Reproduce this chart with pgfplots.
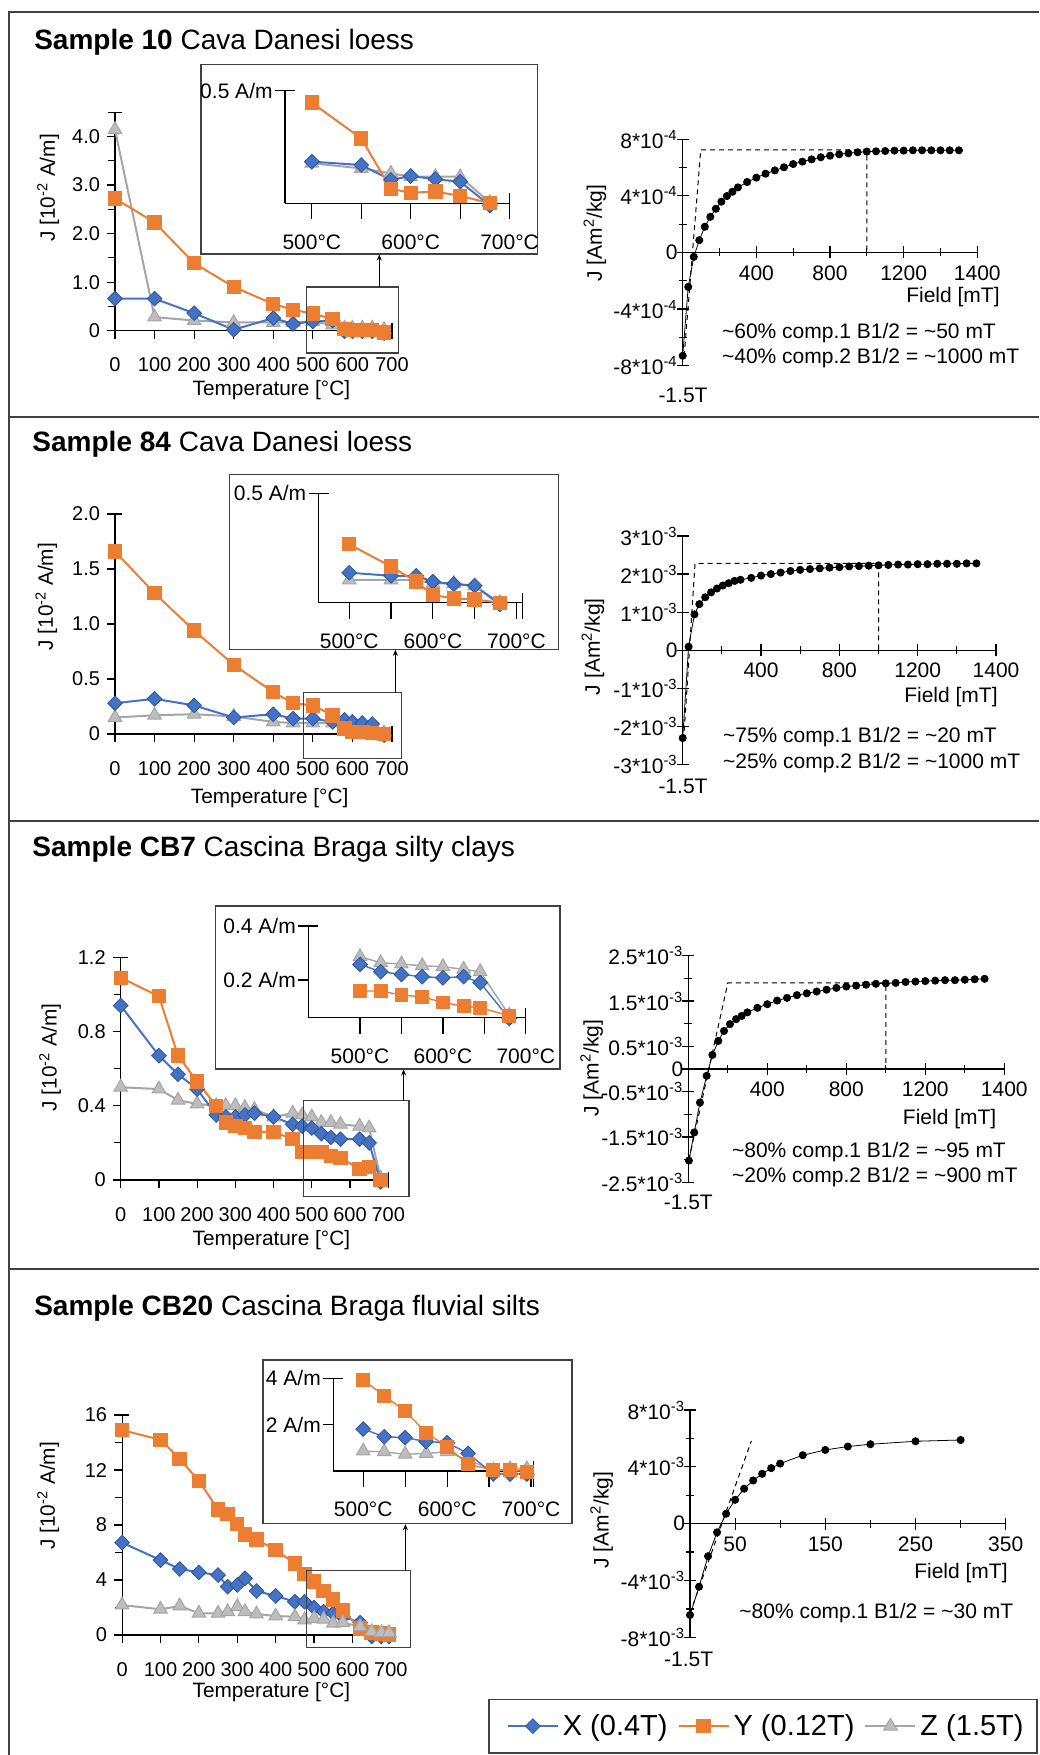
\documentclass[border=0pt]{standalone}
\usepackage{fontspec}
\setmainfont{Liberation Sans}
\usepackage{pgfplots}
\usepackage{pgfplotstable}
\pgfplotsset{compat=1.18}
\usetikzlibrary{arrows.meta}

\definecolor{cX}{HTML}{4472C4}
\definecolor{cXd}{HTML}{2F5597}
\definecolor{cY}{HTML}{ED7D31}
\definecolor{cZ}{HTML}{A5A5A5}
\definecolor{cZf}{HTML}{BDBDBD}
\definecolor{frm}{HTML}{404040}

\tikzset{ilab/.style={anchor=east, inner sep=0pt, font=\fontsize{10.5}{12}\selectfont}}
\pgfplotsset{
  noarrows/.style={every outer x axis line/.append style={-}, every outer y axis line/.append style={-},
    every inner x axis line/.append style={-}, every inner y axis line/.append style={-}},
  base/.style={anchor=south west, scale only axis, clip=false,
    axis line style={black, line width=0.6pt}, tick style={black, line width=0.6pt}},
  therm/.style={base, axis x line*=bottom, axis y line*=left, tick align=outside,
    major tick length=4pt, minor tick length=3.5pt,
    xmin=0, xmax=700, ymin=0,
    xtick={0,100,...,700}, xticklabels={0,100,200,300,400,500,600,700},
    tick label style={font=\fontsize{10}{12}\selectfont},
    xticklabel style={yshift=-6pt}, noarrows},
  inset/.style={base, axis x line*=bottom, axis y line*=left, tick align=outside,
    major tick length=8pt, ymin=0, ytick=\empty,
    xtick={500,550,600,650,700}, xticklabels={500°C,,600°C,,700°C},
    tick label style={font=\fontsize{10.5}{12}\selectfont},
    xticklabel style={yshift=-4pt}, noarrows},
  irm/.style={base, axis x line=middle, axis y line=left, tick align=center,
    major tick length=6pt, minor tick length=4pt, xmin=0,
    tick label style={font=\fontsize{10.5}{12}\selectfont},
    yticklabel style={xshift=4pt}, noarrows},
  sx/.style={cX, line width=1pt, mark=square*, mark size=2.6pt,
    mark options={rotate=45, fill=cX, draw=cXd, line width=0.4pt}},
  sy/.style={cY, line width=1pt, mark=square*, mark size=3.1pt, mark options={fill=cY, draw=cY}},
  sz/.style={cZ, line width=1pt, mark=triangle*, mark size=3.9pt,
    mark options={fill=cZf, draw=cZ, line width=0.5pt}},
  dots/.style={black, line width=0.4pt, mark=*, mark size=1.8pt},
  fit/.style={black, line width=0.5pt, dash pattern=on 2.5pt off 2pt},
}

% thermal demagnetisation, J in 10^-2 A/m
\pgfplotstableread{
T X Y Z
0 0.66 2.72 4.14
100 0.66 2.23 0.28
200 0.36 1.39 0.21
300 0.02 0.90 0.17
400 0.26 0.55 0.17
450 0.14 0.43 0.17
500 0.19 0.35 0.19
550 0.21 0.24 0.12
580 -0.01 0.04 0.05
600 -0.01 0.02 0.05
625 -0.01 0.02 0.05
650 -0.01 0.02 0.05
680 -0.05 -0.04 0.02
}\tA
\pgfplotstableread{
T X Y Z
500 0.185 0.447 0.178
550 0.170 0.288 0.155
580 0.104 0.064 0.133
600 0.121 0.047 0.118
625 0.107 0.052 0.118
650 0.096 0.033 0.118
680 -0.010 0.000 0.003
}\iA
\pgfplotstableread{
T X Y Z
0 0.28 1.66 0.15
100 0.32 1.28 0.17
200 0.26 0.94 0.18
300 0.15 0.63 0.16
400 0.18 0.38 0.11
450 0.14 0.28 0.10
500 0.14 0.26 0.10
550 0.11 0.17 0.10
580 0.13 0.05 0.10
600 0.11 0.02 0.05
625 0.10 0.02 0.04
650 0.09 0.01 0.04
680 -0.01 0.00 0.01
}\tB
\pgfplotstableread{
T X Y Z
500 0.137 0.267 0.104
550 0.123 0.165 0.104
580 0.123 0.096 0.104
600 0.096 0.035 0.088
625 0.085 0.020 0.088
650 0.078 0.015 0.076
680 -0.008 0.000 0.000
}\iB
\pgfplotstableread{
T X Y Z
0 0.94 1.09 0.50
100 0.67 0.99 0.49
150 0.57 0.67 0.43
200 0.49 0.53 0.41
250 0.35 0.40 0.40
275 0.34 0.31 0.40
300 0.34 0.29 0.40
325 0.35 0.28 0.39
350 0.36 0.26 0.38
400 0.34 0.26 0.34
450 0.30 0.22 0.36
475 0.29 0.15 0.35
500 0.28 0.15 0.34
525 0.25 0.15 0.31
550 0.23 0.13 0.31
575 0.22 0.12 0.30
625 0.22 0.06 0.29
650 0.20 0.07 0.28
680 -0.01 0.00 0.01
}\tC
\pgfplotstableread{
T X Y Z
500 0.283 0.142 0.324
525 0.244 0.142 0.292
550 0.230 0.120 0.285
575 0.218 0.111 0.276
600 0.212 0.081 0.271
625 0.218 0.062 0.257
645 0.186 0.053 0.244
680 -0.004 0.011 0.014
}\iC
\pgfplotstableread{
T X Y Z
0 6.72 14.9 2.18
100 5.45 14.2 1.87
150 4.80 12.8 2.11
200 4.56 11.2 1.58
250 4.36 9.14 1.58
275 3.52 8.78 1.70
300 3.64 8.07 2.06
320 4.12 7.32 1.70
350 3.20 6.96 1.53
400 2.84 6.18 1.38
450 2.42 5.21 1.33
475 2.42 4.44 1.09
500 2.00 3.88 1.21
525 1.70 3.22 1.14
550 1.58 2.59 0.85
575 1.33 1.77 0.90
620 0.90 0.48 0.61
650 -0.10 0.17 0.24
675 -0.10 0.12 0.17
695 -0.10 0.05 0.17
}\tD
\pgfplotstableread{
T X Y Z
500 1.81 3.93 0.86
525 1.48 3.24 0.83
550 1.44 2.59 0.72
575 1.27 1.65 0.76
600 1.22 1.05 0.83
625 0.76 0.29 0.47
655 -0.13 0.04 0.04
675 -0.13 0.04 0.09
695 -0.13 -0.03 0.09
}\iD

% IRM acquisition curves (first point = -1.5 T backfield)
\pgfplotstableread{
B J
0 -7.3
30 -2.43
60 -0.31
90 0.87
120 1.82
150 2.52
180 3.09
210 3.59
240 3.99
270 4.29
300 4.60
350 4.98
400 5.29
450 5.57
500 5.80
550 6.02
600 6.25
650 6.42
700 6.58
750 6.73
800 6.84
850 6.94
900 7.01
950 7.08
1000 7.13
1050 7.15
1100 7.17
1150 7.20
1200 7.20
1250 7.22
1300 7.22
1350 7.22
1400 7.22
1450 7.22
1500 7.22
}\rA
\pgfplotstableread{
B J
0 -2.31
30 0.09
60 0.94
85 1.21
115 1.39
145 1.52
175 1.62
205 1.70
235 1.76
265 1.82
295 1.85
350 1.90
400 1.96
450 2.00
500 2.04
550 2.08
600 2.11
650 2.13
700 2.15
750 2.17
800 2.18
850 2.20
900 2.21
950 2.22
1000 2.23
1050 2.24
1100 2.25
1150 2.25
1200 2.26
1250 2.26
1300 2.27
1350 2.27
1400 2.27
1450 2.28
1500 2.28
}\rB
\pgfplotstableread{
B J
3 -2.02
30 -1.40
59 -0.74
93 -0.15
122 0.31
152 0.62
181 0.84
211 0.99
242 1.10
270 1.17
299 1.25
350 1.35
400 1.43
450 1.51
500 1.57
550 1.63
600 1.67
650 1.71
700 1.75
750 1.79
800 1.82
850 1.84
900 1.86
950 1.88
1000 1.89
1050 1.90
1100 1.92
1150 1.93
1200 1.94
1250 1.95
1300 1.96
1350 1.96
1400 1.97
1450 1.98
1500 1.99
}\rC
\pgfplotstableread{
B J
0 -6.43
10 -4.44
20 -2.29
30 -0.61
40 0.70
50 1.68
60 2.46
70 3.04
80 3.51
90 3.91
100 4.23
125 4.82
150 5.19
175 5.43
200 5.59
250 5.80
300 5.89
}\rD

\begin{document}
\begin{tikzpicture}
\path[use as bounding box] (0,0) rectangle (519.5pt,-877.5pt);

% frame, titles, labels (pixel units of the reference)
\begin{scope}[x=0.5pt, y=-0.5pt, every node/.style={inner sep=0pt}]
\draw[frm, line width=1pt] (1039,11.7) -- (9,11.7) -- (9,1755);
\draw[frm, line width=1pt] (9,416.5) -- (1039,416.5) (9,820.7) -- (1039,820.7) (9,1268.5) -- (1039,1268.5);
\begin{scope}[font=\fontsize{14}{17}\selectfont]
\node[anchor=base west] at (33.9,50) {\textbf{Sample 10} Cava Danesi loess};
\node[anchor=base west] at (32.1,451.7) {\textbf{Sample 84} Cava Danesi loess};
\node[anchor=base west] at (32.1,856.7) {\textbf{Sample CB7} Cascina Braga silty clays};
\node[anchor=base west] at (33.9,1315) {\textbf{Sample CB20} Cascina Braga fluvial silts};
\end{scope}
\begin{scope}[font=\fontsize{10.4}{12}\selectfont]
\node[rotate=90] at (48.2,188) {J [10\textsuperscript{-2} A/m]};
\node[rotate=90] at (46.4,596.7) {J [10\textsuperscript{-2} A/m]};
\node[rotate=90] at (50,1057.5) {J [10\textsuperscript{-2} A/m]};
\node[rotate=90] at (48.2,1495.8) {J [10\textsuperscript{-2} A/m]};
\node at (271.4,390) {Temperature [°C]};
\node at (269.6,798.3) {Temperature [°C]};
\node at (271.4,1240) {Temperature [°C]};
\node at (271.4,1691.7) {Temperature [°C]};
\end{scope}
\begin{scope}[font=\fontsize{10.5}{12}\selectfont]
\node[rotate=90] at (595,233) {J [Am\textsuperscript{2}/kg]};
\node[rotate=90] at (593,646.7) {J [Am\textsuperscript{2}/kg]};
\node[rotate=90] at (591.7,1068) {J [Am\textsuperscript{2}/kg]};
\node[rotate=90] at (601.7,1520) {J [Am\textsuperscript{2}/kg]};
\node[anchor=east] at (1000,296.7) {Field [mT]};
\node[anchor=east] at (998,696.7) {Field [mT]};
\node[anchor=east] at (996.7,1119) {Field [mT]};
\node[anchor=east] at (1008,1573.3) {Field [mT]};
\node at (683,395) {-1.5T};
\node at (683,786.7) {-1.5T};
\node at (688.3,1202.7) {-1.5T};
\node at (688.6,1659) {-1.5T};
\node[anchor=west] at (721.7,333) {\textasciitilde 60\% comp.1 B1/2 = \textasciitilde 50 mT};
\node[anchor=west] at (721.7,358.3) {\textasciitilde 40\% comp.2 B1/2 = \textasciitilde 1000 mT};
\node[anchor=west] at (722.7,736.7) {\textasciitilde 75\% comp.1 B1/2 = \textasciitilde 20 mT};
\node[anchor=west] at (722.7,763.3) {\textasciitilde 25\% comp.2 B1/2 = \textasciitilde 1000 mT};
\node[anchor=west] at (731.7,1152.3) {\textasciitilde 80\% comp.1 B1/2 = \textasciitilde 95 mT};
\node[anchor=west] at (731.7,1177.3) {\textasciitilde 20\% comp.2 B1/2 = \textasciitilde 900 mT};
\node[anchor=west] at (739,1613.3) {\textasciitilde 80\% comp.1 B1/2 = \textasciitilde 30 mT};
\end{scope}
% legend frame
\draw[frm, line width=0.8pt] (489,1699.5) rectangle (1037,1753);
\end{scope}

%% ---------------- Sample 10 ----------------
\begin{axis}[therm, at={(57.5pt,-165.35pt)}, width=138.5pt, height=109.3pt, ymax=4.5,
  ytick={0,1,2,3,4}, yticklabels={0,1.0,2.0,3.0,4.0}, minor ytick={0.5,1.5,2.5,3.5}]
\addplot[sz] table[x=T,y=Z]{\tA};
\addplot[sx] table[x=T,y=X]{\tA};
\addplot[sy] table[x=T,y=Y]{\tA};
\draw[line width=0.6pt] ([xshift=-3.5pt]axis cs:0,4.5) -- ([xshift=3.5pt]axis cs:0,4.5);
\draw[line width=0.6pt] ([yshift=-4pt]axis cs:700,0) -- ([yshift=4pt]axis cs:700,0);
\end{axis}
\begin{scope}[x=0.5pt, y=-0.5pt]
\draw[frm, line width=0.6pt] (306.4,287) rectangle (398.2,353);
\draw[black, line width=0.5pt, -{Stealth[length=3pt,width=2.5pt]}] (379.3,287) -- (379.3,254.5);
\draw[frm, line width=0.7pt, fill=white] (201,64.3) rectangle (537.5,254);
\end{scope}
\begin{axis}[inset, at={(142.5pt,-101.65pt)}, width=112.3pt, height=56.3pt,
  xmin=472.9, xmax=700, ymax=0.5]
\addplot[sz] table[x=T,y=Z]{\iA};
\addplot[sx] table[x=T,y=X]{\iA};
\addplot[sy] table[x=T,y=Y]{\iA};
\draw[line width=0.6pt] ([xshift=-5pt]axis cs:472.9,0.5) -- ([xshift=5pt]axis cs:472.9,0.5);
\node[ilab] at ([xshift=-6pt]axis cs:472.9,0.5) {0.5 A/m};
\draw[line width=0.6pt] ([yshift=-8pt]axis cs:700,0) -- ([yshift=5pt]axis cs:700,0);
\end{axis}
\begin{axis}[irm, at={(341.35pt,-182.85pt)}, width=147.3pt, height=113.2pt,
  xmax=1600, ymin=-8, ymax=8,
  xtick={400,800,1200,1600}, xticklabels={400,800,1200,1400}, minor xtick={200,600,1000,1400},
  ytick={-8,-4,0,4,8}, minor ytick={-6,-2,2,6},
  yticklabels={-8*10\textsuperscript{-4},-4*10\textsuperscript{-4},0,4*10\textsuperscript{-4},8*10\textsuperscript{-4}}]
\addplot[fit] coordinates {(8,-7.3) (98,7.25) (1000,7.25) (1000,0)};
\addplot[dots] table[x=B,y=J]{\rA};
\end{axis}

%% ---------------- Sample 84 ----------------
\begin{axis}[therm, at={(57.5pt,-367pt)}, width=138.5pt, height=110pt, ymax=2,
  ytick={0,0.5,1,1.5,2}, yticklabels={0,0.5,1.0,1.5,2.0}]
\addplot[sz] table[x=T,y=Z]{\tB};
\addplot[sx] table[x=T,y=X]{\tB};
\addplot[sy] table[x=T,y=Y]{\tB};
\draw[line width=0.6pt] ([xshift=-4pt]axis cs:0,2) -- ([xshift=3.5pt]axis cs:0,2);
\draw[line width=0.6pt] ([yshift=-4pt]axis cs:700,0) -- ([yshift=4pt]axis cs:700,0);
\end{axis}
\begin{scope}[x=0.5pt, y=-0.5pt]
\draw[frm, line width=0.6pt] (303.6,692.7) rectangle (401.1,758.3);
\draw[black, line width=0.5pt, -{Stealth[length=3pt,width=2.5pt]}] (395.4,692.7) -- (395.4,649.8);
\draw[frm, line width=0.7pt, fill=white] (229.3,474.3) rectangle (558.2,649.3);
\end{scope}
\begin{axis}[inset, at={(159.3pt,-301.35pt)}, width=101.75pt, height=54.7pt,
  xmin=463.3, xmax=706.7, ymax=0.5]
\addplot[sz] table[x=T,y=Z]{\iB};
\addplot[sx] table[x=T,y=X]{\iB};
\addplot[sy] table[x=T,y=Y]{\iB};
\draw[line width=0.6pt] ([xshift=-5pt]axis cs:463.3,0.5) -- ([xshift=5pt]axis cs:463.3,0.5);
\node[ilab] at ([xshift=-6pt]axis cs:463.3,0.5) {0.5 A/m};
\draw[line width=0.6pt] ([yshift=-8pt]axis cs:706.7,0) -- ([yshift=5pt]axis cs:706.7,0);
\end{axis}
\begin{axis}[irm, at={(341.35pt,-382.15pt)}, width=156.65pt, height=114.15pt,
  xmax=1600, ymin=-3, ymax=3,
  xtick={400,800,1200,1600}, xticklabels={400,800,1200,1400}, minor xtick={200,600,1000,1400},
  ytick={-3,-2,-1,0,1,2,3},
  yticklabels={-3*10\textsuperscript{-3},-2*10\textsuperscript{-3},-1*10\textsuperscript{-3},0,1*10\textsuperscript{-3},2*10\textsuperscript{-3},3*10\textsuperscript{-3}}]
\addplot[fit] coordinates {(5,-2.35) (63,2.28) (1000,2.28) (1000,0)};
\addplot[dots] table[x=B,y=J]{\rB};
\end{axis}

%% ---------------- Sample CB7 ----------------
\begin{axis}[therm, at={(60.35pt,-590pt)}, width=133.75pt, height=111.35pt, ymax=1.2,
  ytick={0,0.4,0.8,1.2}, yticklabels={0,0.4,0.8,1.2}, minor ytick={0.2,0.6,1.0}]
\addplot[sz] table[x=T,y=Z]{\tC};
\addplot[sx] table[x=T,y=X]{\tC};
\addplot[sy] table[x=T,y=Y]{\tC};
\draw[line width=0.6pt] ([xshift=-4pt]axis cs:0,1.2) -- ([xshift=3.5pt]axis cs:0,1.2);
\draw[line width=0.6pt] ([yshift=-4pt]axis cs:700,0) -- ([yshift=4pt]axis cs:700,0);
\end{axis}
\begin{scope}[x=0.5pt, y=-0.5pt]
\draw[frm, line width=0.6pt] (303.6,1100.7) rectangle (408.9,1196.7);
\draw[black, line width=0.5pt, -{Stealth[length=3pt,width=2.5pt]}] (403.6,1100.7) -- (403.6,1069.5);
\draw[frm, line width=0.7pt, fill=white] (215.4,906) rectangle (560,1069);
\end{scope}
\begin{axis}[inset, at={(154.1pt,-508.85pt)}, width=108.8pt, height=45.85pt,
  xmin=437.5, xmax=700, ymax=0.487]
\addplot[sz, line width=0.7pt] table[x=T,y=Z]{\iC};
\addplot[sx, line width=0.7pt] table[x=T,y=X]{\iC};
\addplot[sy, line width=0.7pt] table[x=T,y=Y]{\iC};
\draw[line width=0.6pt] ([xshift=-5pt]axis cs:437.5,0.487) -- ([xshift=5pt]axis cs:437.5,0.487);
\draw[line width=0.6pt] ([xshift=-5pt]axis cs:437.5,0.2) -- (axis cs:437.5,0.2);
\node[ilab] at ([xshift=-6pt]axis cs:437.5,0.487) {0.4 A/m};
\node[ilab] at ([xshift=-6pt]axis cs:437.5,0.2) {0.2 A/m};
\draw[line width=0.6pt] ([yshift=-8pt]axis cs:700,0) -- ([yshift=5pt]axis cs:700,0);
\end{axis}
\begin{axis}[irm, at={(344.15pt,-591.15pt)}, width=158pt, height=113.3pt,
  xmax=1600, ymin=-2.5, ymax=2.5,
  xtick={400,800,1200,1600}, xticklabels={400,800,1200,1400}, minor xtick={200,600,1000,1400},
  ytick={-2.5,-1.5,-0.5,0,0.5,1.5,2.5}, minor ytick={-2,-1,1,2},
  yticklabels={-2.5*10\textsuperscript{-3},-1.5*10\textsuperscript{-3},-0.5*10\textsuperscript{-3},0,0.5*10\textsuperscript{-3},1.5*10\textsuperscript{-3},2.5*10\textsuperscript{-3}}]
\addplot[fit] coordinates {(3,-2.0) (200,1.9) (1000,1.9) (1000,0)};
\addplot[dots] table[x=B,y=J]{\rC};
\end{axis}

%% ---------------- Sample CB20 ----------------
\begin{axis}[therm, at={(61.05pt,-817.5pt)}, width=134.4pt, height=110pt, ymax=16,
  ytick={0,4,8,12,16}, yticklabels={0,4,8,12,16}, minor ytick={2,6,10,14},
  legend style={draw=none, fill=none, at={(1.43,-0.414)}, anchor=west, legend columns=3,
    font=\fontsize{14.5}{17}\selectfont, inner sep=0pt,
    /tikz/every even column/.append style={column sep=3pt}},
  legend image code/.code={\draw[mark repeat=2,mark phase=2,#1] plot coordinates {(0pt,0pt) (12.5pt,0pt) (25pt,0pt)};}]
\addplot[sx] table[x=T,y=X]{\tD};
\addlegendentry{X (0.4T)}
\addplot[sy] table[x=T,y=Y]{\tD};
\addlegendentry{Y (0.12T)}
\addplot[sz] table[x=T,y=Z]{\tD};
\addlegendentry{Z (1.5T)}
\draw[line width=0.6pt] ([xshift=-4pt]axis cs:0,16) -- ([xshift=3.5pt]axis cs:0,16);
\draw[line width=0.6pt] ([yshift=-4pt]axis cs:700,0) -- ([yshift=4pt]axis cs:700,0);
\end{axis}
\begin{scope}[x=0.5pt, y=-0.5pt]
\draw[frm, line width=0.6pt] (306.1,1570.7) rectangle (410.7,1647.7);
\draw[black, line width=0.5pt, -{Stealth[length=3pt,width=2.5pt]}] (405.4,1570.7) -- (405.4,1524.2);
\draw[frm, line width=0.7pt, fill=white] (263,1360) rectangle (572,1523.7);
\end{scope}
\begin{axis}[inset, at={(166.6pt,-735.5pt)}, width=100pt, height=46.35pt,
  xmin=464.2, xmax=702.6, ymax=4]
\addplot[sz, line width=0.7pt] table[x=T,y=Z]{\iD};
\addplot[sx, line width=0.7pt] table[x=T,y=X]{\iD};
\addplot[sy, line width=0.7pt] table[x=T,y=Y]{\iD};
\draw[line width=0.6pt] ([xshift=-5pt]axis cs:464.2,4) -- ([xshift=5pt]axis cs:464.2,4);
\draw[line width=0.6pt] ([xshift=-5pt]axis cs:464.2,2) -- (axis cs:464.2,2);
\node[ilab] at ([xshift=-6pt]axis cs:464.2,4) {4 A/m};
\node[ilab] at ([xshift=-6pt]axis cs:464.2,2) {2 A/m};
\draw[line width=0.6pt] ([yshift=-8pt]axis cs:702.6,0) -- ([yshift=5pt]axis cs:702.6,0);
\end{axis}
\begin{axis}[irm, at={(345pt,-818.65pt)}, width=157.85pt, height=113.65pt,
  xmax=350, ymin=-8, ymax=8,
  xtick={50,150,250,350}, xticklabels={50,150,250,350}, minor xtick={100,200,300},
  ytick={-8,-4,0,4,8}, minor ytick={-6,-2,2,6},
  yticklabels={-8*10\textsuperscript{-3},-4*10\textsuperscript{-3},0,4*10\textsuperscript{-3},8*10\textsuperscript{-3}}]
\addplot[fit] coordinates {(0,-6.3) (68,5.82)};
\addplot[dots] table[x=B,y=J]{\rD};
\end{axis}
\end{tikzpicture}
\end{document}
